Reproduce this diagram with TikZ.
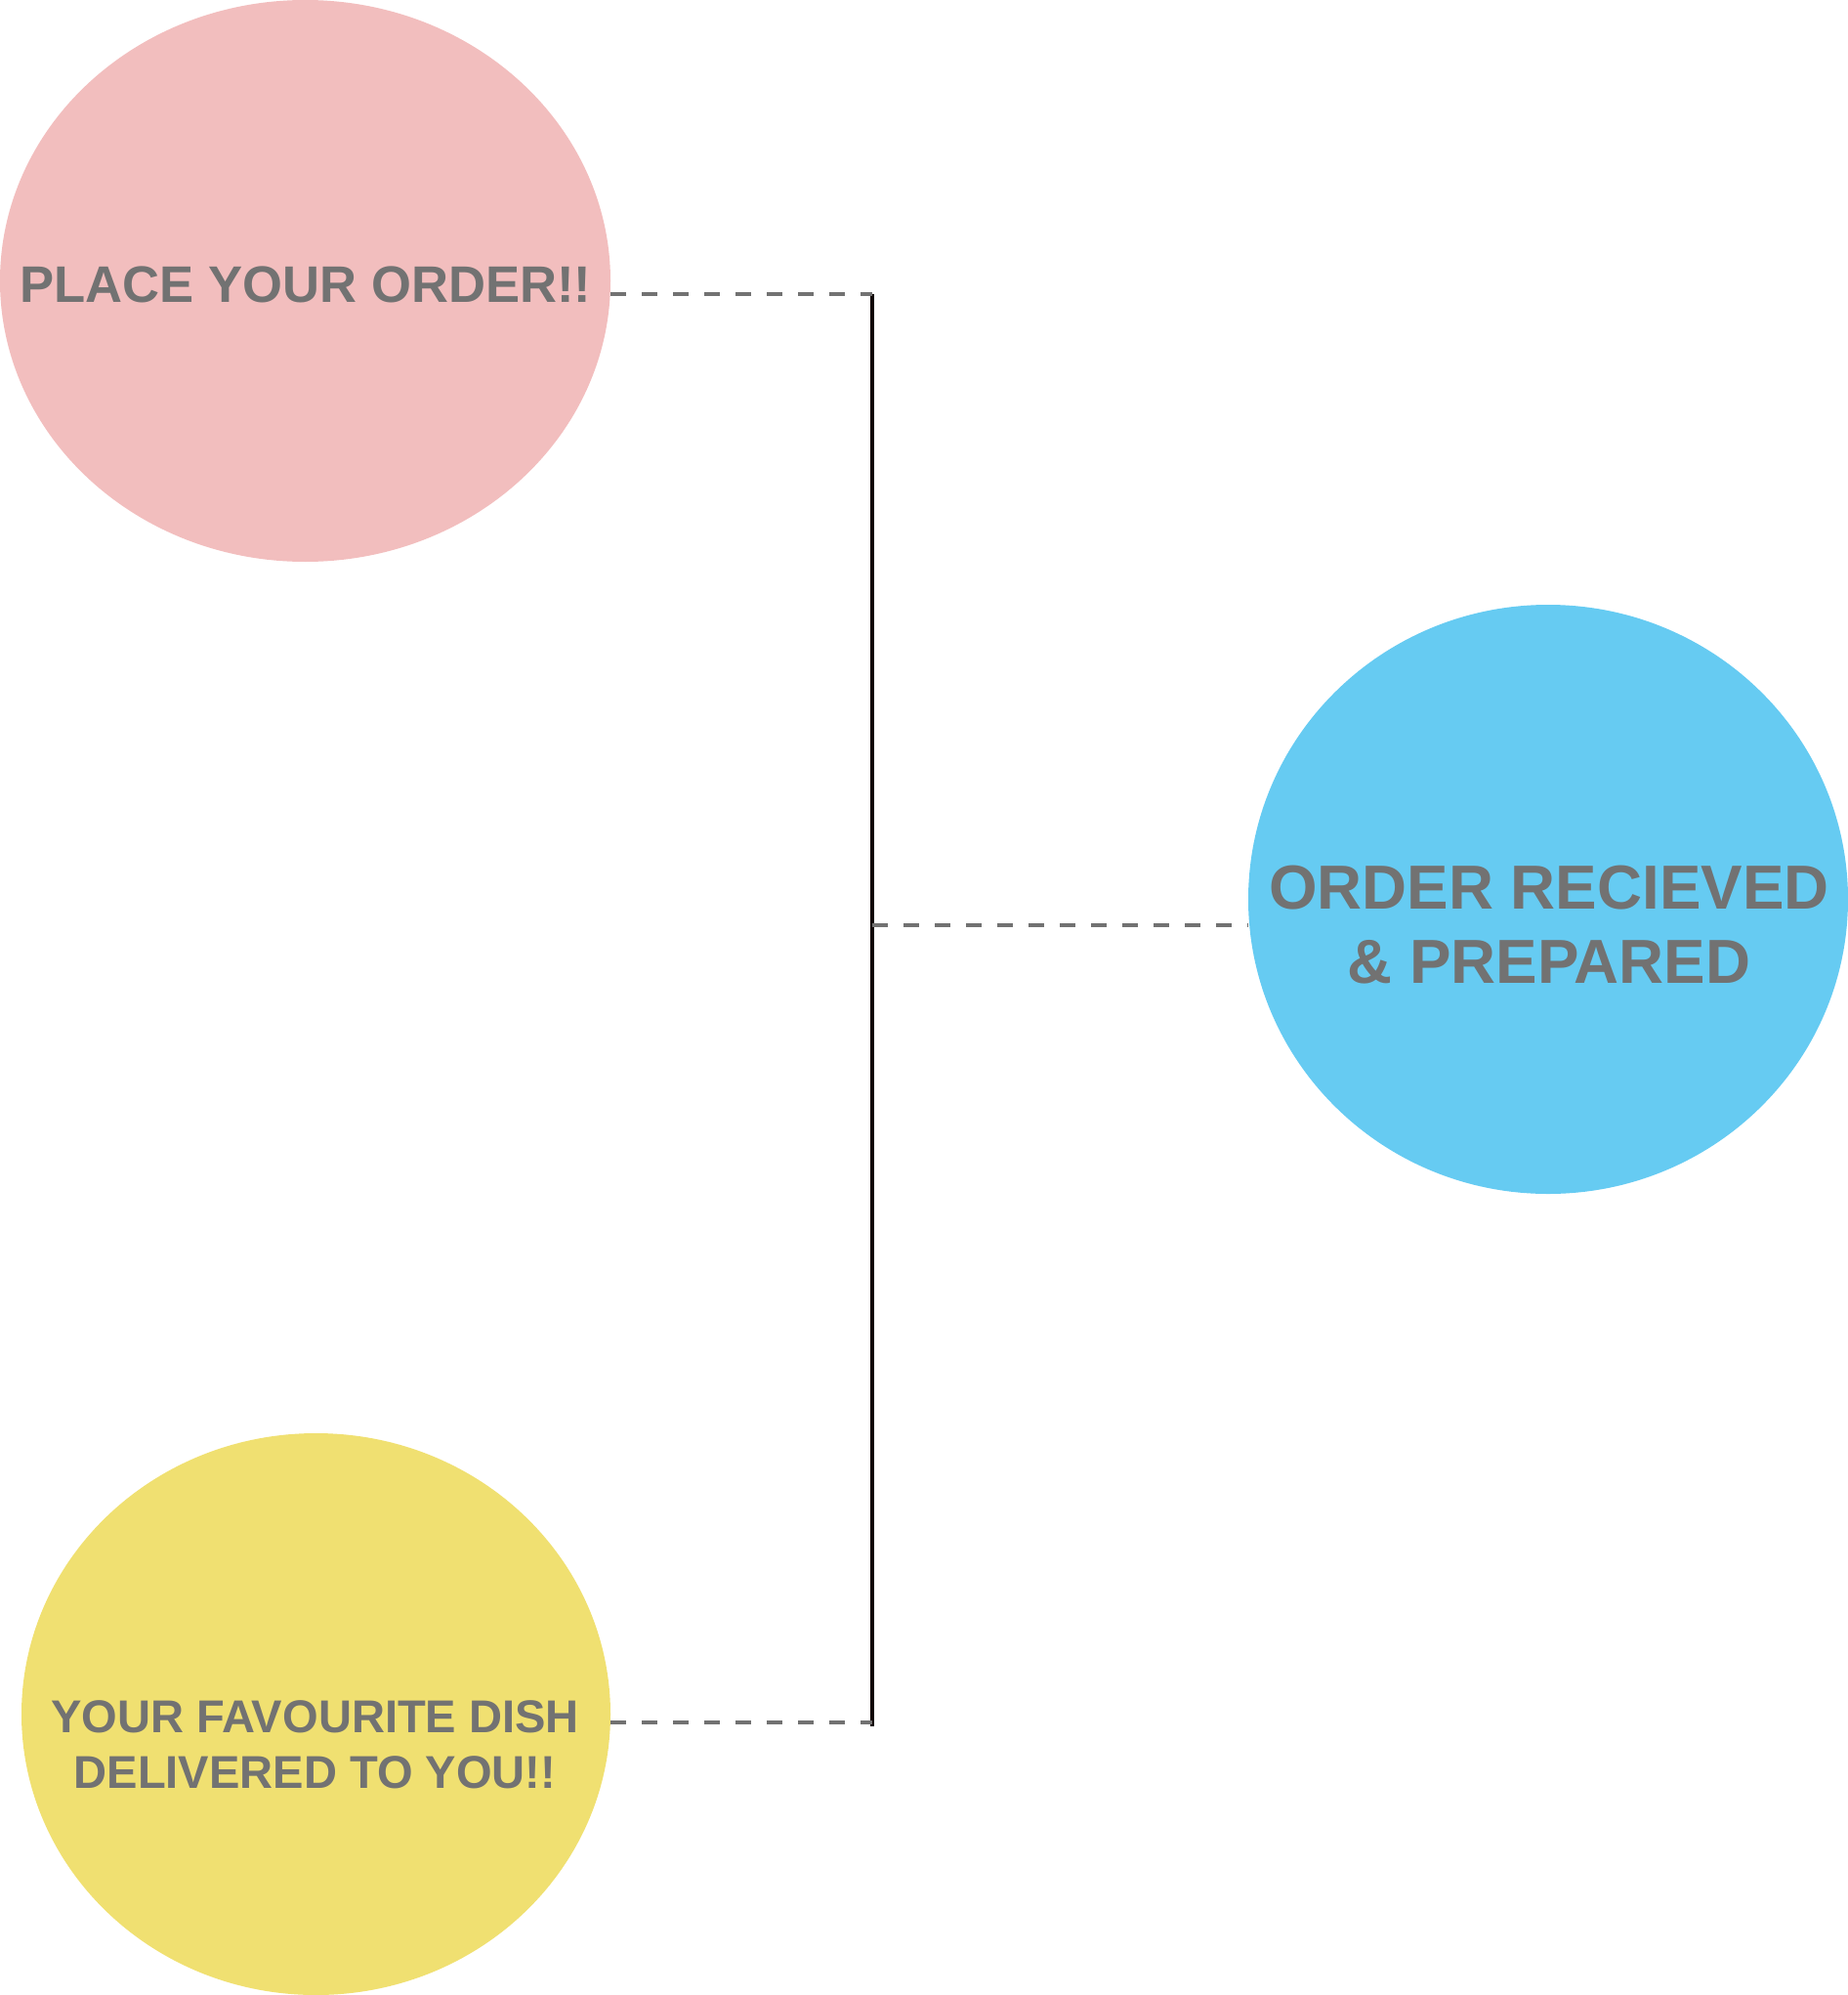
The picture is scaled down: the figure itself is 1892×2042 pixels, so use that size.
\documentclass[tikz,border=0pt]{standalone}
\usepackage{fontspec}
\setmainfont{Liberation Sans}
\usetikzlibrary{shapes.geometric}
\definecolor{pinkfill}{HTML}{F2BEBE}
\definecolor{bluefill}{HTML}{66CBF2}
\definecolor{yellowfill}{HTML}{F0E071}
\definecolor{txtgray}{HTML}{727272}
\definecolor{stemblack}{HTML}{100000}
\tikzset{
  bubble/.style={ellipse, inner sep=0pt, outer sep=0pt, draw=none},
  label text/.style={inner sep=0pt, outer sep=0pt, text=txtgray, align=center},
  dashlink/.style={draw=txtgray, line width=4pt, dash pattern=on 16pt off 16pt},
  stem/.style={draw=stemblack, line width=4pt}
}
\begin{document}
\begin{tikzpicture}[x=1pt, y=-1pt]
\useasboundingbox (0,0) rectangle (1892,2042);
% bubbles
\node[bubble, fill=pinkfill, minimum width=625pt, minimum height=575pt] (place) at (312.5,287.5) {};
\node[bubble, fill=bluefill, minimum width=614pt, minimum height=603pt] (prep) at (1585,920.5) {};
\node[bubble, fill=yellowfill, minimum width=603pt, minimum height=575pt] (deliv) at (323.5,1754.5) {};
% texts
\node[label text, font=\fontsize{52.6pt}{62pt}\selectfont\bfseries] (t1) at (313,291) {PLACE YOUR ORDER!!};
\node[label text, font=\fontsize{63.7pt}{76pt}\selectfont\bfseries] (t2) at (1586,947) {ORDER RECIEVED\\\& PREPARED};
\node[label text, font=\fontsize{47.1pt}{57pt}\selectfont\bfseries] (t3) at (322.5,1786) {YOUR FAVOURITE DISH\\DELIVERED TO YOU!!};
% junctions
\coordinate (jtop) at (893,300.5);
\coordinate (jmid) at (893,946.5);
\coordinate (jbot) at (893,1762.5);
\coordinate (stemend) at (893,1767);
% connectors
\draw[stem] (jtop) -- (stemend);
\draw[dashlink] (place.east |- jtop) -- (jtop);
\draw[dashlink] (jmid) -- (prep.west |- jmid);
\draw[dashlink] (deliv.east |- jbot) -- (jbot);
\end{tikzpicture}
\end{document}
